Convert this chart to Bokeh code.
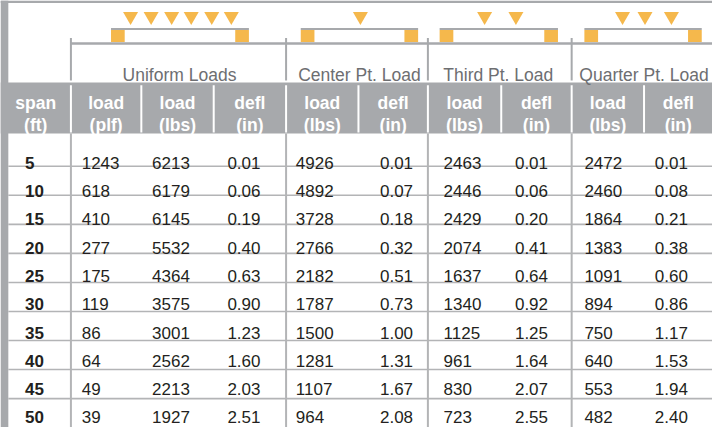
from bokeh.plotting import figure
from bokeh.models import Range1d, ColumnDataSource
from bokeh.core.properties import value
from bokeh.embed import file_html
from bokeh.resources import INLINE

# ---------------- data ----------------
spans = [5, 10, 15, 20, 25, 30, 35, 40, 45, 50]
uniform_plf = [1243, 618, 410, 277, 175, 119, 86, 64, 49, 39]
uniform_lbs = [6213, 6179, 6145, 5532, 4364, 3575, 3001, 2562, 2213, 1927]
uniform_defl = [0.01, 0.06, 0.19, 0.40, 0.63, 0.90, 1.23, 1.60, 2.03, 2.51]
center_lbs = [4926, 4892, 3728, 2766, 2182, 1787, 1500, 1281, 1107, 964]
center_defl = [0.01, 0.07, 0.18, 0.32, 0.51, 0.73, 1.00, 1.31, 1.67, 2.08]
third_lbs = [2463, 2446, 2429, 2074, 1637, 1340, 1125, 961, 830, 723]
third_defl = [0.01, 0.06, 0.20, 0.41, 0.64, 0.92, 1.25, 1.64, 2.07, 2.55]
quarter_lbs = [2472, 2460, 1864, 1383, 1091, 894, 750, 640, 553, 482]
quarter_defl = [0.01, 0.08, 0.21, 0.38, 0.60, 0.86, 1.17, 1.53, 1.94, 2.40]

group_titles = ["Uniform Loads", "Center Pt. Load", "Third Pt. Load", "Quarter Pt. Load"]
header_top = ["span", "load", "load", "defl", "load", "defl", "load", "defl", "load", "defl"]
header_bottom = ["(ft)", "(plf)", "(lbs)", "(in)", "(lbs)", "(in)", "(lbs)", "(in)", "(lbs)", "(in)"]

# ---------------- layout (reference pixel units) ----------------
W, H = 728, 443
GRAY = "#a7a9ac"
LINE = "#b3b4b6"
ORANGE = "#f5b84c"
TXT = "#231f20"
TITLE = "#6d6e71"
FONT = value("Liberation Sans")

col_edges = [0, 72, 144, 218, 292, 366, 437, 512, 584, 658, 728]
group_edges = [72, 292, 437, 584, 728]
text_x = [25, 83, 155, 232, 302, 388, 453, 526, 597, 669]
title_cx = [183, 367, 509, 658]
beams = [(113, 254), (307, 427), (449, 570), (597, 717)]
load_x = [[133, 154, 175, 195, 216, 236], [368], [495, 527], [636, 659, 686]]

p = figure(width=712, height=427, x_range=Range1d(0, W), y_range=Range1d(H, 0),
           output_backend="svg", toolbar_location=None, min_border=0)
p.axis.visible = False
p.grid.visible = False
p.outline_line_color = None
p.background_fill_color = "white"

# frame: top line, left strip, header band
p.quad(left=[0], right=[W], top=[0], bottom=[2.5], fill_color=GRAY, line_color=None)
p.quad(left=[0], right=[8], top=[0], bottom=[H], fill_color=GRAY, line_color=None)
p.quad(left=[0], right=[W], top=[85], bottom=[138], fill_color=GRAY, line_color=None)

# white dividers in header band
inner = col_edges[1:-1]
p.segment(x0=inner, x1=inner, y0=[88] * len(inner), y1=[137] * len(inner),
          line_color="white", line_width=2)

# group header line + ticks
p.segment(x0=[group_edges[0]], x1=[W], y0=[44.5], y1=[44.5], line_color=GRAY, line_width=2.5)
ge = group_edges[:-1]
p.segment(x0=ge, x1=ge, y0=[39] * len(ge), y1=[83] * len(ge), line_color=GRAY, line_width=2)

# group titles
p.text(x=title_cx, y=[77] * 4, text=group_titles, text_align="center",
       text_baseline="alphabetic", text_color=TITLE, text_font=FONT,
       text_font_size="17.5px")

# beam icons
for (b0, b1), lx in zip(beams, load_x):
    p.segment(x0=[b0], x1=[b1], y0=[29.5], y1=[29.5], line_color=GRAY, line_width=2)
    p.quad(left=[b0, b1 - 14], right=[b0 + 14, b1], top=[30.5, 30.5], bottom=[43, 43],
           fill_color=ORANGE, line_color=None)
    p.scatter(x=lx, y=[16.5] * len(lx), marker="inverted_triangle", size=15,
              fill_color=ORANGE, line_color=None)

# header labels
hcx = [36] + [(col_edges[i] + col_edges[i + 1]) / 2 for i in range(1, 10)]
p.text(x=hcx, y=[106] * 10, text=header_top, text_align="center", text_baseline="alphabetic",
       text_color="white", text_font=FONT, text_font_style="bold",
       text_font_size="17.5px")
p.text(x=hcx, y=[129] * 10, text=header_bottom, text_align="center", text_baseline="alphabetic",
       text_color="white", text_font=FONT, text_font_style="bold",
       text_font_size="17.5px")

# row lines
n = len(spans)
row_lines = [172 + 30.125 * i for i in range(n - 1)]
p.segment(x0=[8] * len(row_lines), x1=[W] * len(row_lines), y0=row_lines, y1=row_lines,
          line_color=LINE, line_width=1.6)
p.segment(x0=ge, x1=ge, y0=[138] * len(ge), y1=[H] * len(ge), line_color=LINE, line_width=2)

# data cells
baselines = [168.5 + 29.33 * i for i in range(n)]
p.text(x=[text_x[0]] * n, y=baselines, text=[str(s) for s in spans], text_baseline="alphabetic",
       text_color=TXT, text_font=FONT, text_font_style="bold",
       text_font_size="17px")

columns = [
    [str(v) for v in uniform_plf],
    [str(v) for v in uniform_lbs],
    [f"{v:.2f}" for v in uniform_defl],
    [str(v) for v in center_lbs],
    [f"{v:.2f}" for v in center_defl],
    [str(v) for v in third_lbs],
    [f"{v:.2f}" for v in third_defl],
    [str(v) for v in quarter_lbs],
    [f"{v:.2f}" for v in quarter_defl],
]
xs, ys, ts = [], [], []
for ci, col in enumerate(columns):
    for ri, t in enumerate(col):
        xs.append(text_x[ci + 1])
        ys.append(baselines[ri])
        ts.append(t)
src = ColumnDataSource(dict(x=xs, y=ys, t=ts))
p.text(x="x", y="y", text="t", source=src, text_baseline="alphabetic", text_color=TXT,
       text_font=FONT, text_font_size="17px")

open("out.html", "w").write(file_html(p, INLINE))
